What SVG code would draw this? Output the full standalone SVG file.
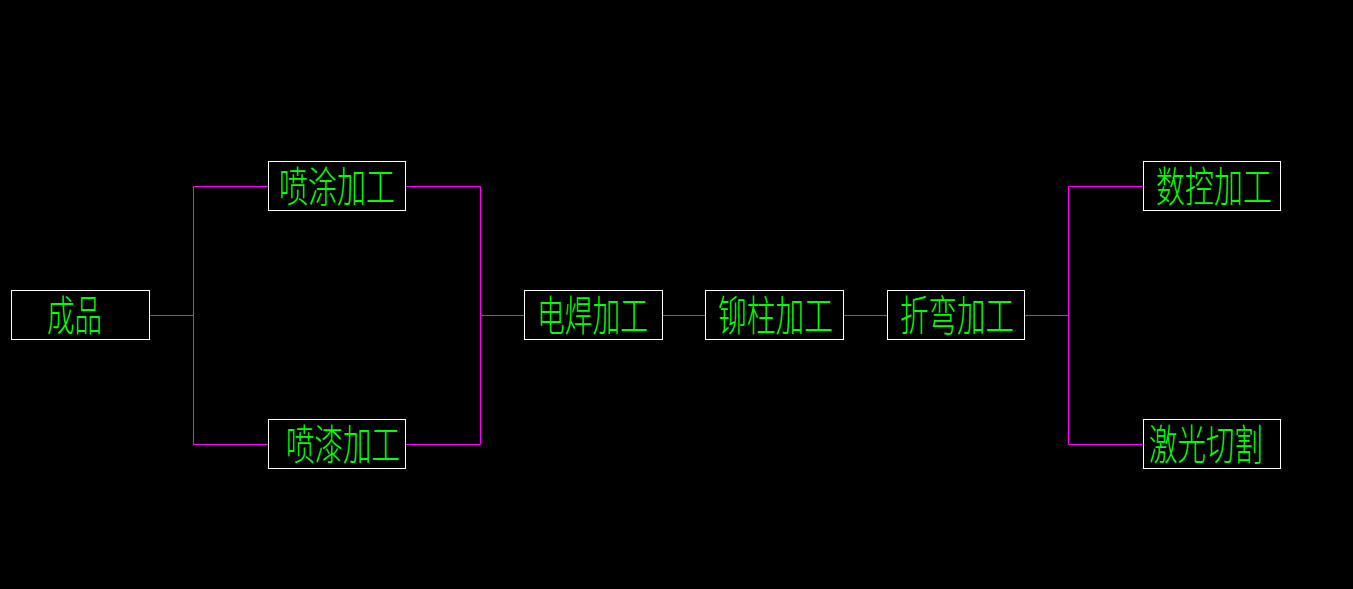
<svg xmlns="http://www.w3.org/2000/svg" width="1353" height="589" viewBox="0 0 1353 589">
<style>
.box{fill:#000;stroke:#fff;stroke-width:1}
.lbl{fill:#00ff00;font-family:"Noto Sans CJK SC","Noto Sans CJK JP",sans-serif;font-size:42px;font-weight:200}
.c{fill:none;stroke:#ff00ff;stroke-width:1}
</style>
<rect x="0" y="0" width="1353" height="589" fill="#000"/>
<g id="connectors">
<path class="c" d="M149.5 315.5H193.5M193.5 186.5V444.5M193.5 186.5H268.5M193.5 444.5H268.5"/>
<path class="c" d="M405.5 186.5H480.5V444.5H405.5M480.5 315.5H524.5"/>
<path class="c" d="M662.5 315.5H705.5M843.5 315.5H887.5"/>
<path class="c" d="M1024.5 315.5H1068.5M1068.5 186.5V444.5M1068.5 186.5H1143.5M1068.5 444.5H1143.5"/>
</g>
<g id="chengpin"><rect class="box" x="11.5" y="290.5" width="138" height="49"/><text class="lbl" x="47" y="330.5" textLength="55" lengthAdjust="spacingAndGlyphs">成品</text></g>
<g id="pentu"><rect class="box" x="268.5" y="161.5" width="137" height="49"/><text class="lbl" x="279" y="201.5" textLength="116" lengthAdjust="spacingAndGlyphs">喷涂加工</text></g>
<g id="penqi"><rect class="box" x="268.5" y="419.5" width="137" height="49"/><text class="lbl" x="286" y="459.5" textLength="114" lengthAdjust="spacingAndGlyphs">喷漆加工</text></g>
<g id="dianhan"><rect class="box" x="524.5" y="290.5" width="138" height="49"/><text class="lbl" x="537" y="330.5" textLength="111" lengthAdjust="spacingAndGlyphs">电焊加工</text></g>
<g id="maozhu"><rect class="box" x="705.5" y="290.5" width="138" height="49"/><text class="lbl" x="718" y="330.5" textLength="115" lengthAdjust="spacingAndGlyphs">铆柱加工</text></g>
<g id="zhewan"><rect class="box" x="887.5" y="290.5" width="137" height="49"/><text class="lbl" x="900" y="330.5" textLength="114" lengthAdjust="spacingAndGlyphs">折弯加工</text></g>
<g id="shukong"><rect class="box" x="1143.5" y="161.5" width="137" height="49"/><text class="lbl" x="1156" y="201.5" textLength="116" lengthAdjust="spacingAndGlyphs">数控加工</text></g>
<g id="jiguang"><rect class="box" x="1143.5" y="419.5" width="137" height="49"/><text class="lbl" x="1149" y="459.5" textLength="114" lengthAdjust="spacingAndGlyphs">激光切割</text></g>
</svg>
